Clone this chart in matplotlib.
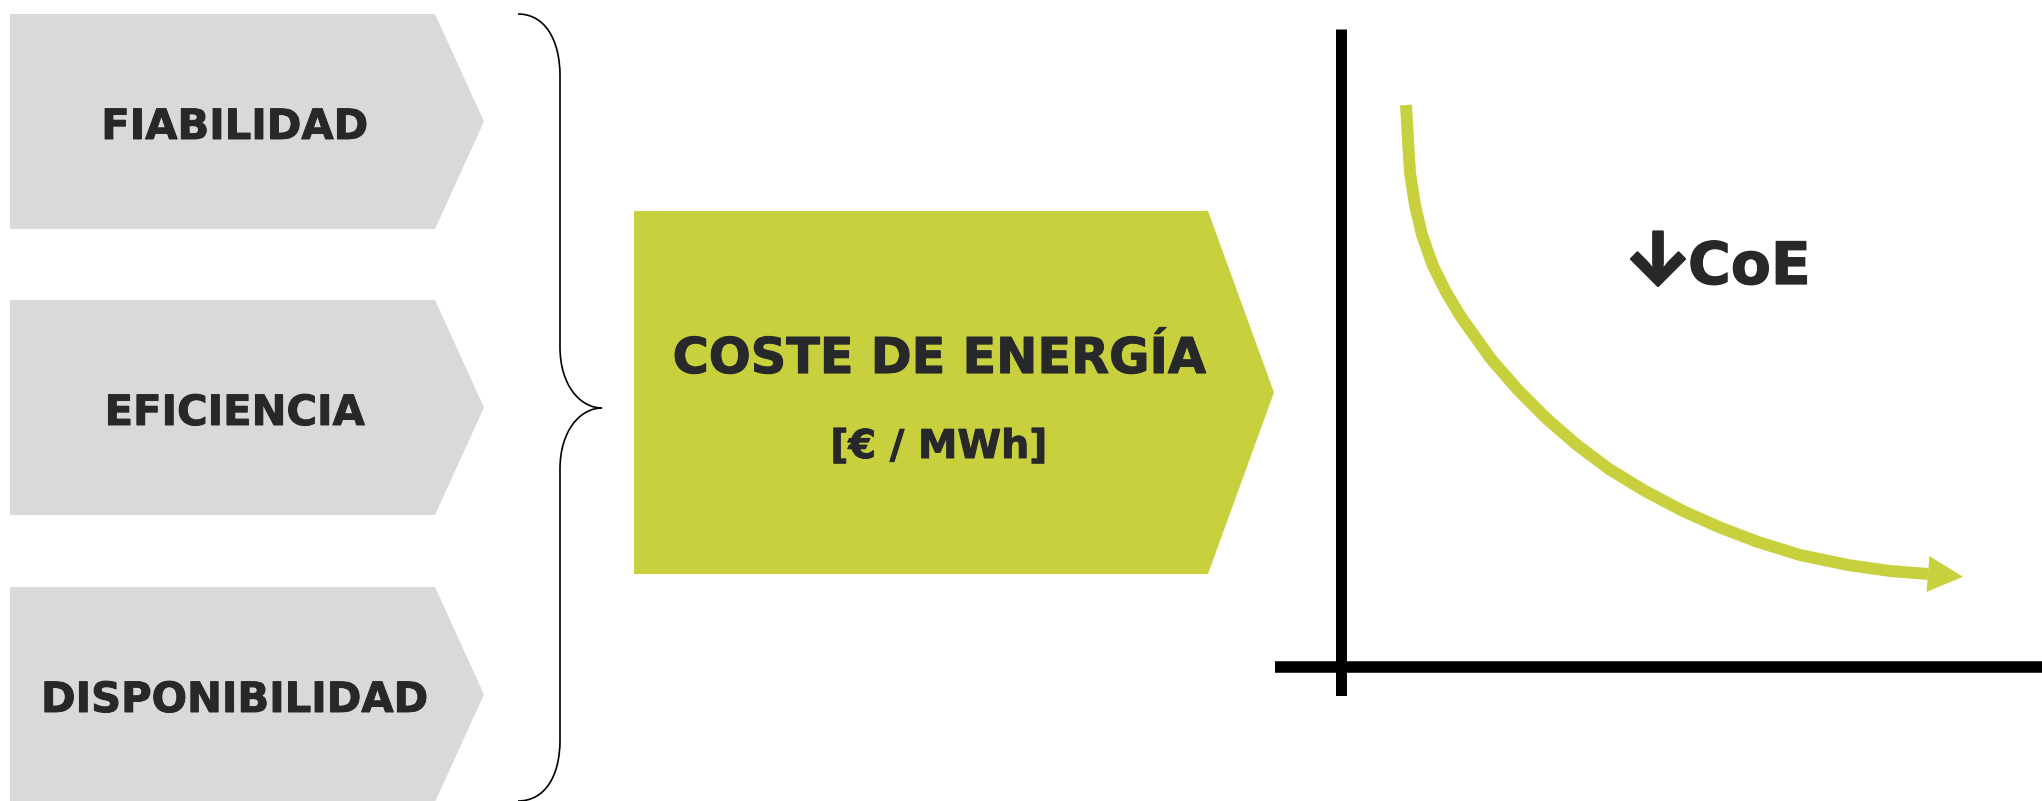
"""Cost-of-energy driver diagram: three factors feed CoE, which falls over time."""

import matplotlib

matplotlib.use("Agg")

import matplotlib.patheffects as pe
import matplotlib.pyplot as plt
from matplotlib.patches import PathPatch, Polygon
from matplotlib.path import Path

# ---- content -------------------------------------------------------------
factor_labels = ["FIABILIDAD", "EFICIENCIA", "DISPONIBILIDAD"]
result_title = "COSTE DE ENERGÍA"
result_unit = "[€ / MWh]"
trend_symbol = "\u2193"
trend_label = "CoE"

# decreasing CoE curve (chart units, origin at the axes crossing)
coe_x = [0.655, 0.675, 0.695, 0.745, 0.815, 0.925, 1.055, 1.205, 1.505, 1.775, 2.065,
         2.365, 2.685, 3.045, 3.425, 3.795, 4.175, 4.595, 5.075, 5.495, 5.875]
coe_y = [5.615, 5.265, 4.935, 4.615, 4.315, 4.005, 3.745, 3.495, 3.075, 2.765, 2.475,
         2.215, 1.975, 1.755, 1.555, 1.390, 1.245, 1.115, 1.015, 0.955, 0.925]

# ---- style ---------------------------------------------------------------
GREY = "#d9d9d9"
GREEN = "#c8d03e"
INK = "#27282a"
W, H = 2042, 801


def heavy(width):
    return [pe.withStroke(linewidth=width, foreground=INK)]


fig = plt.figure(figsize=(W / 100, H / 100), dpi=100)
fig.patch.set_facecolor("white")

# canvas in pixel units for the block diagram
ax = fig.add_axes([0, 0, 1, 1])
ax.set_xlim(0, W)
ax.set_ylim(H, 0)
ax.axis("off")


def chevron(x0, y0, body, tip, height, color):
    pts = [
        (x0, y0),
        (x0 + body, y0),
        (x0 + body + tip, y0 + height / 2),
        (x0 + body, y0 + height),
        (x0, y0 + height),
    ]
    ax.add_patch(Polygon(pts, closed=True, facecolor=color, edgecolor="none"))


# factor chevrons
row_tops = [14, 300, 587]
for top, label in zip(row_tops, factor_labels):
    chevron(10, top, 425, 49, 215, GREY)
    ax.text(235, top + 125, label, ha="center", va="baseline",
            fontsize=30, fontweight="bold", color=INK, family="DejaVu Sans",
            path_effects=heavy(0.7))

# curly brace joining the three factors
brace = Path(
    [
        (518, 14), (545, 14), (560, 40), (560, 76),
        (560, 347),
        (560, 385), (580, 408), (602, 408),
        (580, 408), (560, 431), (560, 469),
        (560, 740),
        (560, 776), (545, 801), (518, 801),
    ],
    [
        Path.MOVETO, Path.CURVE4, Path.CURVE4, Path.CURVE4,
        Path.LINETO,
        Path.CURVE4, Path.CURVE4, Path.CURVE4,
        Path.CURVE4, Path.CURVE4, Path.CURVE4,
        Path.LINETO,
        Path.CURVE4, Path.CURVE4, Path.CURVE4,
    ],
)
ax.add_patch(PathPatch(brace, facecolor="none", edgecolor="black", lw=1.2))

# result chevron
chevron(634, 211, 574, 66, 363, GREEN)
ax.text(939, 373, result_title, ha="center", va="baseline",
        fontsize=35.5, fontweight="bold", color=INK, family="DejaVu Sans",
        path_effects=heavy(0.8))
ax.text(939, 458, result_unit, ha="center", va="baseline",
        fontsize=28.5, fontweight="bold", color=INK, family="DejaVu Sans",
        path_effects=heavy(0.7))

# ---- CoE vs time sketch ---------------------------------------------------
cx = fig.add_axes([1275 / W, (H - 696) / H, 767 / W, 667 / H])
cx.set_xlim(-0.655, 7.015)
cx.set_ylim(-0.295, 6.375)
cx.axis("off")
cx.patch.set_alpha(0)

cx.axvline(0, color="black", lw=7.9, solid_capstyle="butt")
cx.axhline(0, color="black", lw=8.3, solid_capstyle="butt")

cx.plot(coe_x, coe_y, color=GREEN, lw=8.6, solid_capstyle="butt",
        solid_joinstyle="round")

# arrow head continuing the last segment
dx, dy = coe_x[-1] - coe_x[-2], coe_y[-1] - coe_y[-2]
norm = (dx ** 2 + dy ** 2) ** 0.5
ux, uy = dx / norm, dy / norm
head_len, head_half = 0.35, 0.18
bx, by = coe_x[-1], coe_y[-1]
cx.add_patch(Polygon(
    [
        (bx - uy * head_half, by + ux * head_half),
        (bx + ux * head_len, by + uy * head_len),
        (bx + uy * head_half, by - ux * head_half),
    ],
    closed=True, facecolor=GREEN, edgecolor="none",
))

ax.text(1658, 285, trend_symbol, ha="center", va="baseline",
        fontsize=53, fontweight="heavy", color=INK, family=["Inter", "DejaVu Sans"],
        path_effects=heavy(1.5))
ax.text(1688, 284, trend_label, ha="left", va="baseline",
        fontsize=42, fontweight="bold", color=INK, family="DejaVu Sans",
        path_effects=heavy(0.9))

fig.savefig("out.png", dpi=100, facecolor="white")
plt.close(fig)
